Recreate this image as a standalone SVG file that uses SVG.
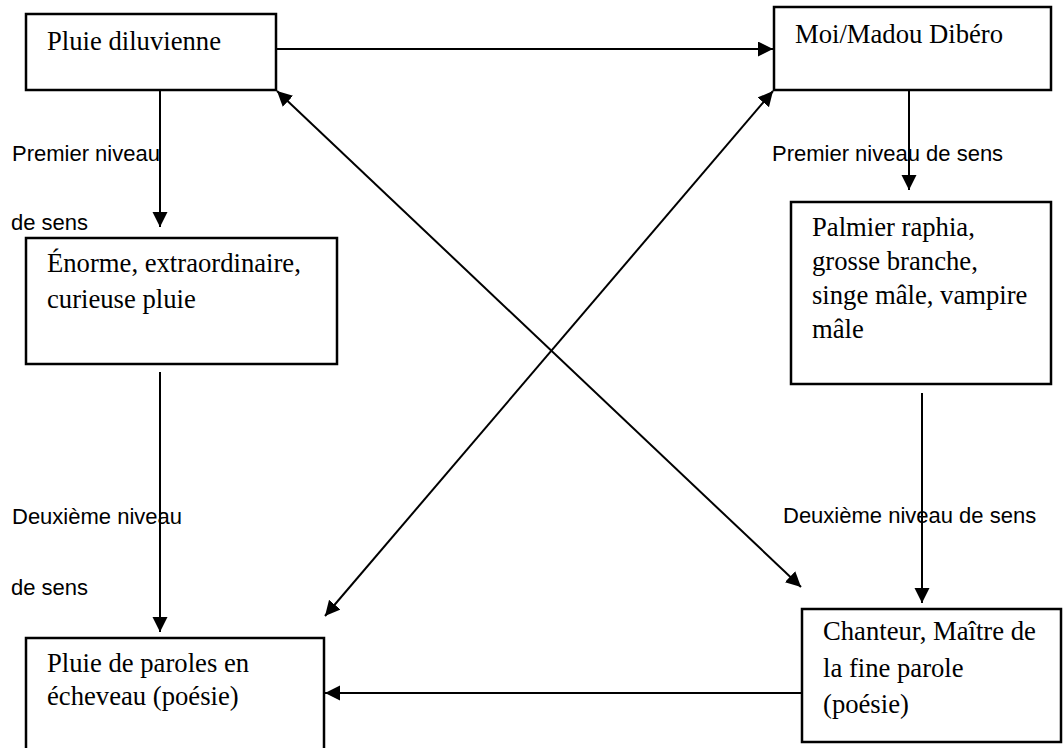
<svg xmlns="http://www.w3.org/2000/svg" width="1063" height="748" viewBox="0 0 1063 748">
<style>
.box{fill:#fff;stroke:#000;stroke-width:2.5}
.t{font-family:"Liberation Serif","Times New Roman",serif;font-size:26.67px;fill:#000}
.lbl{font-family:"Liberation Sans",Arial,sans-serif;font-size:22px;fill:#000}
.c{stroke:#000;stroke-width:2;fill:none}
</style>
<defs>
<marker id="ah" markerUnits="userSpaceOnUse" markerWidth="16" markerHeight="16" viewBox="0 0 16 16" refX="15" refY="7.5" orient="auto-start-reverse">
<path d="M0,0 L15,7.5 L0,15 z" fill="#000"/>
</marker>
</defs>
<rect width="1063" height="748" fill="#fff"/>
<g id="connectors">
<line class="c" x1="276" y1="49" x2="773" y2="49" marker-end="url(#ah)"/>
<line class="c" x1="160" y1="90" x2="160" y2="227" marker-end="url(#ah)"/>
<line class="c" x1="909" y1="90" x2="909" y2="190" marker-end="url(#ah)"/>
<line class="c" x1="160" y1="372" x2="160" y2="632" marker-end="url(#ah)"/>
<line class="c" x1="922" y1="393" x2="922" y2="603" marker-end="url(#ah)"/>
<line class="c" x1="802" y1="693" x2="325" y2="693" marker-end="url(#ah)"/>
<line class="c" x1="277" y1="91" x2="801" y2="587" marker-start="url(#ah)" marker-end="url(#ah)"/>
<line class="c" x1="773" y1="91" x2="325" y2="616" marker-start="url(#ah)" marker-end="url(#ah)"/>
</g>
<g id="labels">
<text class="lbl" x="12" y="161">Premier niveau</text>
<text class="lbl" x="11" y="230">de sens</text>
<text class="lbl" x="772" y="161">Premier niveau de sens</text>
<text class="lbl" x="12" y="524">Deuxième niveau</text>
<text class="lbl" x="11" y="595">de sens</text>
<text class="lbl" x="783" y="523">Deuxième niveau de sens</text>
</g>
<g id="n1">
<rect class="box" x="26" y="14" width="250" height="76"/>
<text class="t" x="47" y="50">Pluie diluvienne</text>
</g>
<g id="n2">
<rect class="box" x="774" y="7" width="277" height="83"/>
<text class="t" x="795" y="43">Moi/Madou Dibéro</text>
</g>
<g id="n3">
<rect class="box" x="26" y="238" width="311" height="126"/>
<text class="t" x="47" y="272">Énorme, extraordinaire,</text>
<text class="t" x="47" y="308">curieuse pluie</text>
</g>
<g id="n4">
<rect class="box" x="791" y="202" width="260" height="182"/>
<text class="t" x="812" y="236">Palmier raphia,</text>
<text class="t" x="812" y="270">grosse branche,</text>
<text class="t" x="812" y="304">singe mâle, vampire</text>
<text class="t" x="812" y="338">mâle</text>
</g>
<g id="n5">
<rect class="box" x="26" y="638" width="298" height="130"/>
<text class="t" x="47" y="672">Pluie de paroles en</text>
<text class="t" x="47" y="705">écheveau (poésie)</text>
</g>
<g id="n6">
<rect class="box" x="802" y="609" width="259" height="133"/>
<text class="t" x="823" y="640">Chanteur, Maître de</text>
<text class="t" x="823" y="677">la fine parole</text>
<text class="t" x="823" y="713">(poésie)</text>
</g>
</svg>
